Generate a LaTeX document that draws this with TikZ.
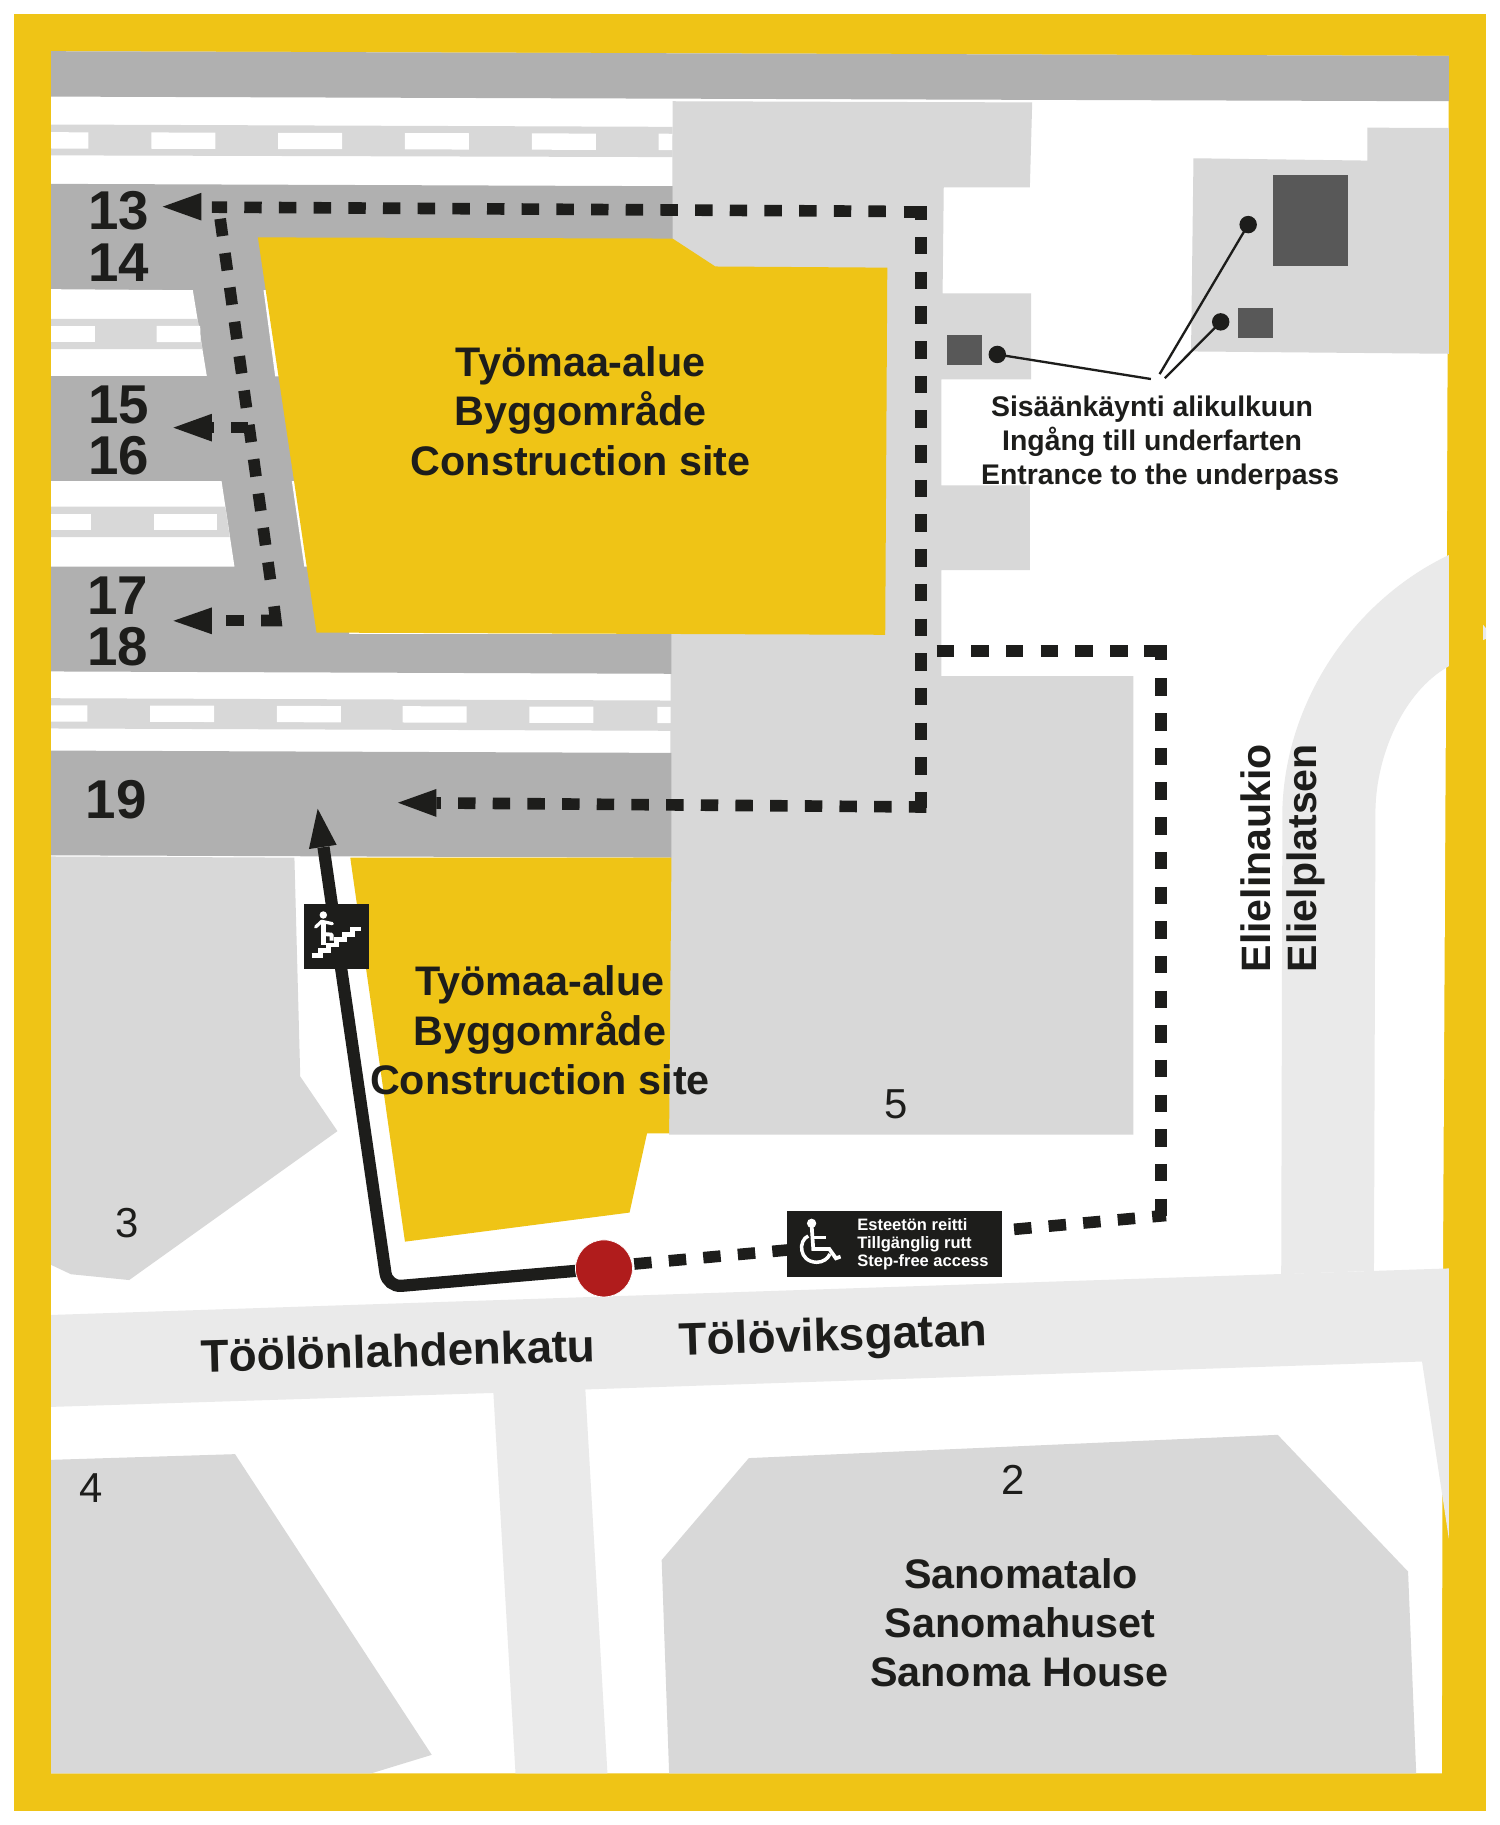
\documentclass[tikz,border=0pt]{standalone}
\usepackage{fontspec}
\setmainfont{Liberation Sans}
\definecolor{frameY}{HTML}{EFC416}
\definecolor{roadD}{HTML}{B0B0B0}
\definecolor{blockG}{HTML}{D8D8D8}
\definecolor{roadL}{HTML}{EAEAEA}
\definecolor{entr}{HTML}{585858}
\definecolor{ink}{HTML}{1D1D1B}
\definecolor{redD}{HTML}{B01C1C}
\tikzset{
  routedash/.style={draw=ink,line width=10pt,dash pattern=on 15pt off 14.8pt},
  routesolid/.style={draw=ink,line width=10pt,miter limit=10},
  leader/.style={draw=ink,line width=2pt},
  dotnode/.style={circle,fill=ink,inner sep=0pt,minimum size=15pt},
  numbig/.style={text=ink,inner sep=0pt,font=\fontsize{47}{47}\selectfont\bfseries},
  numsmall/.style={text=ink,inner sep=0pt,font=\fontsize{36}{36}\selectfont},
  sitelabel/.style={text=ink,inner sep=0pt,align=center,font=\fontsize{35.5}{42.5}\selectfont\bfseries},
  entrlabel/.style={text=ink,inner sep=0pt,align=center,font=\fontsize{24.4}{29}\selectfont\bfseries},
  streetlabel/.style={text=ink,inner sep=0pt,font=\fontsize{39.4}{39.4}\selectfont\bfseries},
  placelabel/.style={text=ink,inner sep=0pt,font=\fontsize{35.3}{35.3}\selectfont\bfseries},
  signlabel/.style={text=white,inner sep=0pt,align=left,font=\fontsize{14.2}{15.5}\selectfont\bfseries},
  signbox/.style={fill=ink,draw=none}
}
\begin{document}
\begin{tikzpicture}[x=1pt,y=-1pt]
\useasboundingbox (0,0) rectangle (1289,1568.3);
\fill[white] (0,0) rectangle (1289,1568.3);
% frame
\fill[frameY] (12,12) rectangle (1277,1556);
\fill[white] (44,44) -- (1245,48) -- (1243.5,430) -- (1240,1093) -- (1239,1524) -- (44,1524) -- cycle;
\fill[roadL] (1274.6,537) -- (1277,540) -- (1277,549) -- (1274.6,550) -- cycle;
% top road
\fill[roadD] (44,44) -- (1245,48) -- (1245,87) -- (44,83) -- cycle;
% lanes
\fill[blockG] (44,107) -- (578,109) -- (578,135) -- (44,133.5) -- cycle;
\foreach \a/\b in {44/76,130/185,239/294,348/403,457/512,566/578}
  \fill[white] (\a,113.5+\a/400) -- (\b,113.5+\b/400) -- (\b,127.5+\b/400) -- (\a,127.5+\a/400) -- cycle;
\fill[blockG] (44,600) -- (577,602) -- (577,628) -- (44,626) -- cycle;
\foreach \a/\b in {44/75,129/184,238/293,346/401,455/510,565/577}
  \fill[white] (\a,606+\a/400) -- (\b,606+\b/400) -- (\b,620+\b/400) -- (\a,620+\a/400) -- cycle;
% blocks
\fill[blockG] (578,87) -- (887,88) -- (885,161) -- (811,161) -- (810,252) -- (886,252) -- (886,326) -- (809,326) -- (809,417) -- (885,417) -- (885,490) -- (809,490) -- (809,581) -- (974,581) -- (974,975) -- (575,975) -- cycle;
\fill[blockG] (1025.6,136) -- (1175,138) -- (1175,109.7) -- (1245,110) -- (1245,304) -- (1023.5,302) -- cycle;
% parking rows
\fill[roadD] (44,158) -- (578,160) -- (578,206) -- (300,206) -- (300,545) -- (577,545) -- (577,579) -- (44,577) -- cycle;
\fill[white] (44,248.5) -- (165.7,249.4) -- (177.7,323) -- (44,323) -- cycle;
\fill[blockG] (44,274) -- (169.7,274) -- (174,300) -- (44,300) -- cycle;
\fill[white] (44,280) -- (81.4,280) -- (81.4,294) -- (44,294) -- cycle;
\fill[white] (134.5,280) -- (172,280) -- (172.5,294) -- (134.5,294) -- cycle;
\fill[white] (44,413.5) -- (190.4,413.5) -- (201.5,487) -- (44,487) -- cycle;
\fill[blockG] (44,435.4) -- (193.6,435.4) -- (197.5,461.5) -- (44,461.5) -- cycle;
\fill[white] (44,441.6) -- (78,441.6) -- (78,455.4) -- (44,455.4) -- cycle;
\fill[white] (132,441.6) -- (186.6,441.6) -- (186.6,455.4) -- (132,455.4) -- cycle;
\fill[white] (226.5,249.4) -- (229.5,249.4) -- (240.5,323.5) -- (236.5,323.5) -- cycle;
\fill[white] (250.8,413.5) -- (254,413.5) -- (264.5,487) -- (261.5,487) -- cycle;
\fill[roadD] (44,645) -- (577,647) -- (577,737) -- (44,735) -- cycle;
% light roads
\fill[roadL] (44,1130) -- (1245,1090) -- (1245,1322) -- (1222,1170) -- (503,1194) -- (522,1524) -- (443,1524) -- (424,1197) -- (44,1209) -- cycle;
\fill[roadL] (1101,1095) -- (1102,695) .. controls (1105,600) and (1165,515) .. (1245,477) -- (1245,572.5) .. controls (1205,595) and (1183,650) .. (1182,695) -- (1180.7,1092) -- cycle;
% buildings
\fill[blockG] (44,736) -- (253,737) -- (258,925) -- (290,972) -- (111,1100) -- (61,1095) -- (44,1087) -- cycle;
\fill[blockG] (44,1254.5) -- (202,1249.6) -- (371,1508) -- (318.7,1524) -- (44,1524) -- cycle;
\fill[blockG] (643.5,1253) -- (1098,1233) -- (1210,1350.5) -- (1217,1524) -- (575,1524) -- (568.6,1340.6) -- cycle;
% construction sites
\fill[frameY] (221.6,204) -- (578,205) -- (614.7,229) -- (762.5,230) -- (760.7,545.5) -- (272,543.6) -- cycle;
\fill[frameY] (301,737) -- (577,737) -- (575,974) -- (556,974) -- (541,1042) -- (348,1067) -- cycle;
% entrance squares
\fill[entr] (814,288) rectangle (844,314);
\fill[entr] (1093.5,150.4) rectangle (1158.6,229);
\fill[entr] (1064,264.7) rectangle (1093.5,290.8);
% entrance leaders
\node[dotnode] (e1) at (857,304.6) {};
\node[dotnode] (e2) at (1072.6,193) {};
\node[dotnode] (e3) at (1049,276.6) {};
\coordinate (l1) at (989,325.7);
\coordinate (l2) at (996.5,321.5);
\coordinate (l3) at (1001,325);
\draw[leader] (e1.center) -- (l1);
\draw[leader] (e2.center) -- (l2);
\draw[leader] (e3.center) -- (l3);
% routes
\coordinate (ra) at (761.3,181.6);
\coordinate (rb) at (182,178);
\draw[routedash] (ra) -- (rb);
\draw[routesolid] (776.5,182) -- (791.3,182) -- (791.3,189);
\coordinate (rc) at (791.3,203.7);
\coordinate (rd) at (791.3,694);
\draw[routedash] (rc) -- (rd);
\coordinate (re) at (796,693.5);
\coordinate (rf) at (375,690);
\draw[routedash] (re) -- (rf);
\coordinate (rg) at (189.2,188);
\coordinate (rh) at (233.6,507);
\draw[routedash] (rg) -- (rh);
\draw[routesolid] (224.5,533.2) -- (237,533.2) -- (235.5,521);
\draw[routesolid] (194.5,533.2) -- (209.4,533.2);
\draw[routesolid] (198.6,367.5) -- (213.4,367.5);
\draw[routesolid] (181,367.5) -- (184,367.5);
\coordinate (ri) at (804.9,559.4);
\coordinate (rj) at (983,559.4);
\draw[routedash] (ri) -- (rj);
\draw[routesolid] (983,559.4) -- (997.7,559.4) -- (997.7,567);
\coordinate (rk) at (997.7,583);
\coordinate (rl) at (997.7,1049);
\draw[routedash] (rk) -- (rl);
\coordinate (rm) at (545,1086.2);
\coordinate (rn) at (1002,1044.5);
\draw[routedash] (rm) -- (rn);
% arrow heads of the dashed routes
\fill[ink] (139.8,177.6) -- (173,165.7) -- (173,189.5) -- cycle;
\fill[ink] (149,367.5) -- (182,355.6) -- (182,379.4) -- cycle;
\fill[ink] (149,533.5) -- (182,522) -- (182,545) -- cycle;
\fill[ink] (342,689.8) -- (375,678) -- (375,702) -- cycle;
% solid route
\coordinate (sa) at (519,1090);
\coordinate (sb) at (333,1106);
\coordinate (sc) at (278,728);
\draw[ink,line width=10.5pt,rounded corners=12pt] (sa) -- (sb) -- (sc);
\fill[ink] (273,695) -- (265.5,729.6) -- (289.3,726) -- cycle;
\node[circle,fill=redD,draw=white,line width=0.6pt,inner sep=0pt,minimum size=49pt] (start) at (sa) {};
% stairs sign
\fill[signbox] (261.2,776.9) rectangle (317,832.4);
\begin{scope}[shift={(240.6,670.3)},x=0.2864pt,y=-0.2864pt]
  \fill[white] (130,405) circle[radius=3.2pt];
  \draw[white,line width=4.2pt,line join=round] (130,425) -- (130,495);
  \draw[white,line width=3.4pt,line join=round] (130,462) -- (155,464) -- (155,482);
  \draw[white,line width=2.8pt,line join=round,line cap=round] (107,441) -- (125,424) -- (157,431);
  \draw[white,line width=4.2pt] (95,527) -- (121,527) -- (121,511) -- (146,511) -- (146,495) -- (170,495) -- (170,479) -- (194,479) -- (194,463) -- (218,463) -- (218,447) -- (243,447);
\end{scope}
% step-free sign
\fill[signbox] (676,1041) rectangle (860.8,1097);
\begin{scope}[shift={(481.2,1014)},x=0.2864pt,y=-0.2864pt]
  \fill[white] (755,130) circle[radius=4pt];
  \draw[white,line width=3.2pt] (755,135) -- (760,207) -- (808,207) -- (828,235) -- (842,230);
  \draw[white,line width=2.6pt] (757,172) -- (798,172);
  \draw[white,line width=3pt] (745,168) .. controls (715,180) and (715,245) .. (770,247) .. controls (790,247) and (805,235) .. (810,222);
\end{scope}
% labels
\node[numbig] (n13) at (102,181) {13};
\node[numbig] (n14) at (102,226) {14};
\node[numbig] (n15) at (102,348) {15};
\node[numbig] (n16) at (102,392) {16};
\node[numbig] (n17) at (101,512) {17};
\node[numbig] (n18) at (101,556) {18};
\node[numbig] (n19) at (100,687) {19};
\node[numsmall] (n5) at (770,949) {5};
\node[numsmall] (n3) at (109,1051) {3};
\node[numsmall] (n4) at (78,1279) {4};
\node[numsmall] (n2) at (870.5,1272) {2};
\node[sitelabel] (site1) at (499,353) {Työmaa-alue\\Byggområde\\Construction site};
\node[sitelabel] (site2) at (464,885.5) {Työmaa-alue\\Byggområde\\Construction site};
\node[sitelabel] (sanoma) at (876,1394.5) {\hspace*{3pt}Sanomatalo\\\hspace*{1pt}Sanomahuset\\Sanoma House};
\node[entrlabel] (entrtext) at (997,381) {\hspace*{-14pt}Sisäänkäynti alikulkuun\\\hspace*{-14pt}Ingång till underfarten\\Entrance to the underpass};
\node[streetlabel,rotate=1.5] (st1) at (342,1160.5) {Töölönlahdenkatu};
\node[streetlabel,rotate=1.8] (st2) at (716,1150.5) {Tölöviksgatan};
\node[placelabel,rotate=90] (pl1) at (1079,737.5) {Elielinaukio};
\node[placelabel,rotate=90] (pl2) at (1122,737.5) {Elielplatsen};
\node[signlabel,anchor=west] (signtext) at (736.5,1069.6) {Esteetön reitti\\Tillgänglig rutt\\Step-free access};
\end{tikzpicture}
\end{document}
